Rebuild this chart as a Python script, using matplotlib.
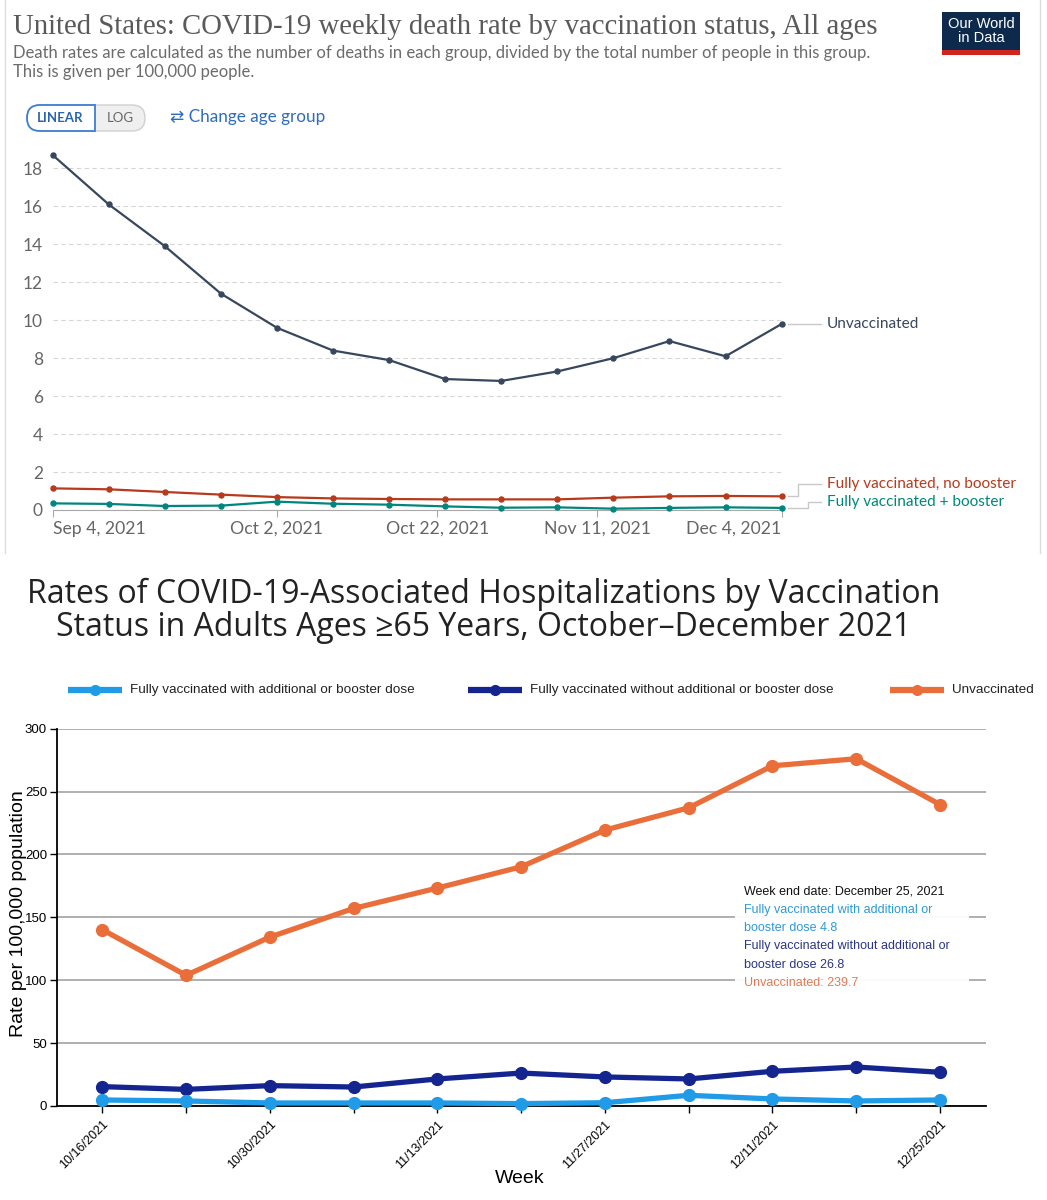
import matplotlib
matplotlib.use("Agg")
import matplotlib.pyplot as plt
import matplotlib.dates as mdates
from matplotlib.patches import FancyBboxPatch, Rectangle
import pandas as pd

# Top chart: OWID weekly death rate per 100,000 (US, all ages)
owid_weeks = ["2021-09-04", "2021-09-11", "2021-09-18", "2021-09-25", "2021-10-02",
              "2021-10-09", "2021-10-16", "2021-10-23", "2021-10-30", "2021-11-06",
              "2021-11-13", "2021-11-20", "2021-11-27", "2021-12-04"]
death_unvax = [18.7, 16.1, 13.9, 11.4, 9.6, 8.4, 7.9, 6.9, 6.8, 7.3, 8.0, 8.9, 8.1, 9.8]
death_no_booster = [1.14, 1.09, 0.95, 0.81, 0.68, 0.61, 0.58, 0.56, 0.56, 0.56, 0.65, 0.72, 0.74, 0.72]
death_booster = [0.35, 0.32, 0.21, 0.23, 0.44, 0.33, 0.28, 0.19, 0.12, 0.14, 0.07, 0.11, 0.14, 0.11]
owid_ticks = ["2021-09-04", "2021-10-02", "2021-10-22", "2021-11-11", "2021-12-04"]
owid_tick_labels = ["Sep 4, 2021", "Oct 2, 2021", "Oct 22, 2021", "Nov 11, 2021", "Dec 4, 2021"]
owid_series = ["Unvaccinated", "Fully vaccinated, no booster", "Fully vaccinated + booster"]

# Bottom chart: CDC hospitalization rate per 100,000, adults 65+
cdc_weeks = ["10/16/2021", "10/23/2021", "10/30/2021", "11/6/2021", "11/13/2021", "11/20/2021",
             "11/27/2021", "12/4/2021", "12/11/2021", "12/18/2021", "12/25/2021"]
hosp_booster = [4.8, 4.0, 2.4, 2.4, 2.4, 1.9, 2.6, 8.5, 5.6, 4.0, 4.8]
hosp_no_booster = [15.4, 13.2, 16.2, 15.1, 21.5, 26.2, 23.1, 21.5, 27.6, 31.0, 26.8]
hosp_unvax = [140.2, 103.9, 134.3, 157.1, 173.3, 190.2, 219.4, 237.1, 270.5, 276.1, 239.7]
cdc_series = ["Fully vaccinated with additional or booster dose",
              "Fully vaccinated without additional or booster dose",
              "Unvaccinated"]

W, H = 1047, 1200
LATO = ["Lato", "DejaVu Sans"]
ARIAL = ["Liberation Sans", "DejaVu Sans"]
OPEN = ["Open Sans", "DejaVu Sans"]


def fig_box(x0, y0, x1, y1):
    """pixel box (top-left origin) -> figure fraction rect"""
    return [x0 / W, 1 - y1 / H, (x1 - x0) / W, (y1 - y0) / H]


fig = plt.figure(figsize=(W / 100, H / 100), dpi=100)
fig.patch.set_facecolor("white")

# ---------------- top chart ----------------
owid_colors = ["#38475e", "#b73a1c", "#00877d"]
owid_dates = pd.to_datetime(owid_weeks)
ax1 = fig.add_axes(fig_box(52.7, 149.4, 781.6, 510))
for vals, col in zip([death_unvax, death_no_booster, death_booster], owid_colors):
    ax1.plot(owid_dates, vals, color=col, lw=1.6, marker="o", ms=3.6, clip_on=False, zorder=3)
ax1.set_xlim(owid_dates[0], owid_dates[-1])
ax1.set_ylim(0, 19)
ax1.set_yticks(range(0, 19, 2))
ax1.grid(axis="y", color="#d6d6d6", linestyle=(0, (4, 3)), lw=0.8)
ax1.set_axisbelow(True)
for s in ["top", "right", "left"]:
    ax1.spines[s].set_visible(False)
ax1.spines["bottom"].set_color("#a8a8a8")
ax1.set_xticks(pd.to_datetime(owid_ticks))
ax1.set_xticklabels(owid_tick_labels, family=LATO)
ax1.tick_params(axis="x", length=5, color="#a8a8a8", labelsize=12.7, labelcolor="#666666", pad=3)
ax1.tick_params(axis="y", length=0, pad=7, labelsize=12.5, labelcolor="#666666")
for lab in ax1.get_yticklabels():
    lab.set_family(LATO)
tl = ax1.get_xticklabels()
tl[0].set_ha("left")
tl[-1].set_ha("right")

# ---------------- bottom chart ----------------
cdc_colors = ["#1f9be8", "#15258f", "#ea6e3a"]
xs = list(range(len(cdc_weeks)))
ax2 = fig.add_axes(fig_box(56.7, 728.7, 986, 1106))
for vals, col in zip([hosp_unvax, hosp_no_booster, hosp_booster], cdc_colors[::-1]):
    ax2.plot(xs, vals, color=col, lw=3.8, marker="o", ms=8.5, clip_on=False, zorder=3)
ax2.set_xlim(-0.545, len(cdc_weeks) - 1 + 0.55)
ax2.set_ylim(0, 300)
ax2.set_yticks(range(0, 301, 50))
ax2.grid(axis="y", color="#a9a9a9", lw=1.3)
ax2.set_axisbelow(True)
ax2.spines["top"].set_visible(False)
ax2.spines["right"].set_visible(False)
ax2.spines["left"].set_linewidth(1.3)
ax2.spines["bottom"].set_linewidth(1.3)
ax2.set_xticks(xs)
ax2.set_xticklabels([w if i % 2 == 0 else "" for i, w in enumerate(cdc_weeks)],
                    rotation=45, ha="right", rotation_mode="anchor", family=ARIAL, fontsize=9)
ax2.tick_params(axis="x", length=5, width=1, pad=4)
ax2.tick_params(axis="y", length=5, width=1, pad=2, labelsize=9.5)
for lab in ax2.get_yticklabels():
    lab.set_family(ARIAL)
ax2.set_xlabel("Week", family=ARIAL, fontsize=14)
ax2.xaxis.set_label_coords((520 - 56.7) / 929.3, (1106 - 1170) / 377.3)
ax2.set_ylabel("Rate per 100,000 population", family=ARIAL, fontsize=14)
ax2.yaxis.set_label_coords((27 - 56.7) / 929.3, 0.51)

# ---------------- overlay (pixel coords, top-left origin) ----------------
ov = fig.add_axes([0, 0, 1, 1], zorder=5)
ov.set_xlim(0, W)
ov.set_ylim(H, 0)
ov.axis("off")
ov.patch.set_alpha(0)

# panel frame of the OWID screenshot
ov.plot([5, 5], [0, 553], color="#dcdcdc", lw=1)
ov.plot([1040, 1040], [0, 553], color="#dcdcdc", lw=1)

ov.text(13, 27, "United States: COVID-19 weekly death rate by vaccination status, All ages",
        family=["Liberation Serif", "DejaVu Serif"], fontsize=20.7, color="#5a5a5a", va="center")
ov.text(13, 53, "Death rates are calculated as the number of deaths in each group, divided by "
        "the total number of people in this group.", family=LATO, fontsize=12,
        color="#6b6b6b", va="center")
ov.text(13, 72, "This is given per 100,000 people.", family=LATO, fontsize=12,
        color="#6b6b6b", va="center")

# logo
ov.add_patch(Rectangle((942, 12), 78, 38, facecolor="#0d2a4d", edgecolor="none"))
ov.add_patch(Rectangle((942, 50), 78, 5, facecolor="#ce261e", edgecolor="none"))
ov.text(981, 31, "Our World\nin Data", ha="center", va="center", color="white",
        family=ARIAL, fontsize=10.5, linespacing=0.95)

# LINEAR / LOG toggle
pill = FancyBboxPatch((27, 105), 118, 26, boxstyle="round,pad=0,rounding_size=13",
                      facecolor="#efefef", edgecolor="#d0d0d0", lw=1)
ov.add_patch(pill)
left = FancyBboxPatch((27, 105), 118, 26, boxstyle="round,pad=0,rounding_size=13",
                      facecolor="white", edgecolor="#3d7fd1", lw=1.3)
ov.add_patch(left)
left.set_clip_path(Rectangle((20, 100), 75, 36, transform=ov.transData))
ov.plot([95, 95], [105, 131], color="#3d7fd1", lw=1.3)
ov.text(60, 118, "LINEAR", ha="center", va="center", color="#2a63b0", family=LATO,
        fontsize=9.5, fontweight="bold")
ov.text(120, 118, "LOG", ha="center", va="center", color="#666666", family=LATO, fontsize=9.5)
ov.text(170, 117, "\u21c4 Change age group", color="#2f6cc0", family=LATO, fontsize=12.3,
        va="center")

# line labels with connectors
fig.canvas.draw()
label_y = [None, 484, 502]
elbow_x = [None, 798, 808]
for i, (vals, name, col) in enumerate(zip([death_unvax, death_no_booster, death_booster],
                                           owid_series, owid_colors)):
    px, py = ax1.transData.transform((mdates.date2num(owid_dates[-1]), vals[-1]))
    py = H - py
    ly = py if label_y[i] is None else label_y[i]
    if label_y[i] is None:
        ov.plot([px + 6, 821], [py, py], color="#c8c8c8", lw=1)
    else:
        ov.plot([px + 6, elbow_x[i], elbow_x[i], 821], [py, py, ly, ly], color="#c8c8c8", lw=1)
    ov.text(827, ly, name, color=col, family=LATO, fontsize=11.1, va="center")

# bottom title
ov.text(484, 611, "Rates of COVID-19-Associated Hospitalizations by Vaccination\n"
        "Status in Adults Ages \u226565 Years, October\u2013December 2021",
        ha="center", va="center", family=OPEN, fontsize=23, color="#222222", linespacing=1.0)

# legend row
for x0, name, col in zip([68, 468, 890], cdc_series, cdc_colors):
    ov.plot([x0, x0 + 54], [690, 690], color=col, lw=4.5, solid_capstyle="butt")
    ov.plot([x0 + 27], [690], marker="o", color=col, ms=7)
    ov.text(x0 + 62, 690, name, family=ARIAL, fontsize=9.7, color="#222222", va="center")

# hover tooltip
ov.add_patch(Rectangle((735, 877), 234, 123, facecolor="white", edgecolor="none", alpha=0.95))
tip = ["Week end date: December 25, 2021",
       "Fully vaccinated with additional or", f"booster dose {hosp_booster[-1]}",
       "Fully vaccinated without additional or", f"booster dose {hosp_no_booster[-1]}",
       f"Unvaccinated: {hosp_unvax[-1]}"]
tip_cols = ["#111111", "#2e9ad6", "#2e9ad6", "#2b3585", "#2b3585", "#e07a55"]
for k, (t, c) in enumerate(zip(tip, tip_cols)):
    ov.text(744, 891.5 + k * 18.3, t, color=c, family=ARIAL, fontsize=9, va="center")

fig.savefig("out.png", dpi=100)
